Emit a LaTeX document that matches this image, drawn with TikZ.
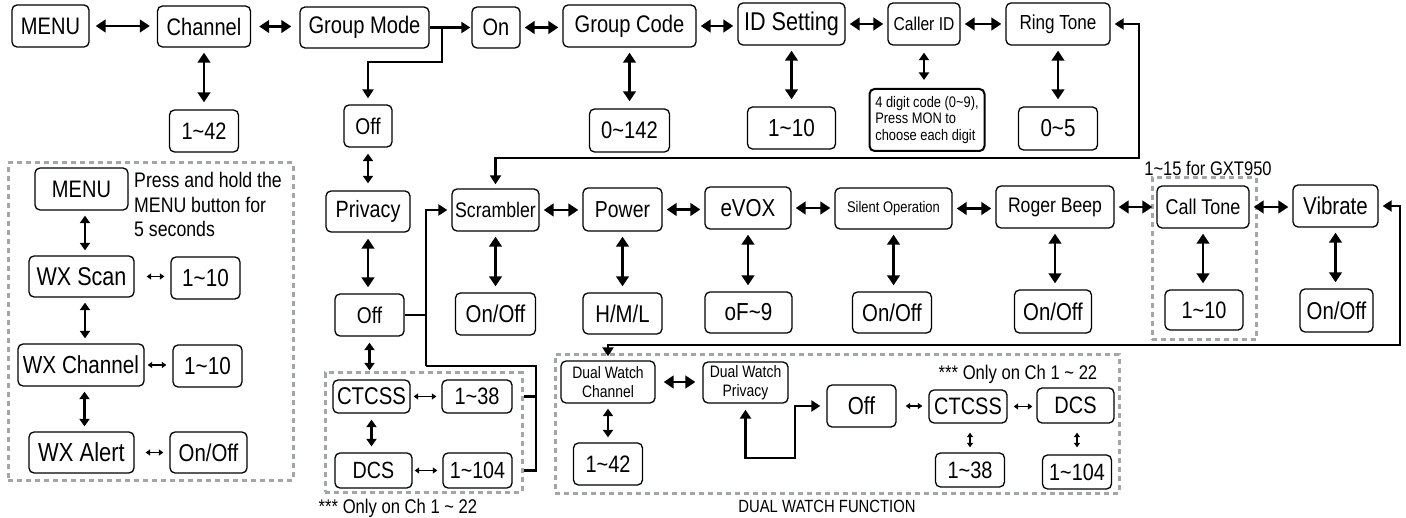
\documentclass[tikz,border=0pt]{standalone}
\usepackage{fontspec}
\setmainfont{Liberation Sans}[FakeStretch=0.84]
\usetikzlibrary{arrows.meta}
\definecolor{dgray}{HTML}{A2A5AA}
\newcommand\tild{\textasciitilde}
\def\fscale{1.07}
\newcommand\fsz[2]{\fontsize{\fpeval{#1*\fscale}}{#2}\selectfont}
\newcommand\bx[7]{\node[bx,minimum width=#4pt,minimum height=#5pt,font=\fsz{#6}{#6}] (#1) at (#2,#3) {#7};}
\begin{document}
\begin{tikzpicture}[x=1pt,y=-1pt,
  bx/.style={draw, rounded corners=5pt, line width=1.3pt, inner sep=0pt, align=center, fill=white},
  dbl/.style={line width=2.8pt, {Triangle[length=10pt,width=12.5pt]}-{Triangle[length=10pt,width=12.5pt]}, shorten <=4pt, shorten >=4pt},
  dbm/.style={line width=2.4pt, {Triangle[length=7.5pt,width=10pt]}-{Triangle[length=7.5pt,width=10pt]}, shorten <=5pt, shorten >=5pt},
  dbs/.style={line width=1.5pt, {Triangle[length=4.5pt,width=6pt]}-{Triangle[length=4.5pt,width=6pt]}, shorten <=4pt, shorten >=4pt},
  conn/.style={line width=2.2pt},
  tipc/.style={-{Triangle[length=9pt,width=11pt]}},
  both/.style={{Triangle[length=9pt,width=11pt]}-{Triangle[length=9pt,width=11pt]}},
  dashbox/.style={draw=dgray, line width=3pt, dash pattern=on 5pt off 4pt, inner sep=0pt},
  lbl/.style={inner sep=0pt}]
\useasboundingbox[fill=white] (0,0) rectangle (1406,518);

% dashed groups
\node[dashbox, minimum width=285pt, minimum height=317pt] (wxbox) at (150.5,321.5) {};
\node[dashbox, minimum width=197pt, minimum height=119pt] (pbox) at (423.5,432.5) {};
\node[dashbox, minimum width=564pt, minimum height=138pt] (dwbox) at (837,424) {};
\node[dashbox, minimum width=104pt, minimum height=162pt] (ctbox) at (1204,259) {};

% row 1
\bx{menu}{50.5}{26}{77}{42}{22.3}{MENU}
\bx{chan}{204}{26.5}{93}{41}{22.3}{Channel}
\bx{gmode}{364.5}{27.5}{129}{41}{22.4}{Group Mode}
\bx{on}{496}{27.5}{48}{41}{22.2}{On}
\bx{gcode}{629.5}{26}{133}{42}{22.4}{Group Code}
\bx{idset}{791.5}{24}{107}{42}{24}{ID Setting}
\bx{callid}{924}{24}{72}{42}{17.4}{Caller ID}
\bx{ring}{1058}{24}{104}{42}{19}{Ring Tone}
\bx{c42}{204}{131}{69}{42}{22.2}{1\tild42}
\bx{c142}{629.5}{130.5}{80}{43}{22.4}{0\tild142}
\bx{c10}{791.5}{128}{88}{42}{23}{1\tild10}
\node[bx, line width=2pt, minimum width=115pt, minimum height=62pt, align=left, font=\fsz{14.3}{16.7}] (note) at (927,120) {4 digit code (0\tild9),\\Press MON to\\choose each digit};
\bx{c5}{1058}{128.5}{79}{43}{22.9}{0\tild5}
\bx{off1}{368}{126}{48}{42}{21.3}{Off}

% row 2
\bx{priv}{368}{211.5}{84}{41}{22}{Privacy}
\bx{scr}{495.5}{210}{87}{42}{19.7}{Scrambler}
\bx{pow}{622.5}{209.5}{79}{43}{21.6}{Power}
\bx{evox}{748}{208}{86}{42}{22.9}{eVOX}
\bx{silent}{893.5}{208.5}{117}{41}{14.4}{Silent Operation}
\bx{roger}{1055}{207}{118}{42}{19.6}{Roger Beep}
\bx{call}{1203}{207}{92}{42}{20}{Call Tone}
\bx{vib}{1335.5}{206}{85}{42}{22.8}{Vibrate}
\bx{off2}{369.5}{315}{69}{42}{21.3}{Off}
\bx{scrv}{495.5}{314}{80}{42}{22.7}{On/Off}
\bx{powv}{622.5}{313.5}{79}{41}{22.6}{H/M/L}
\bx{evoxv}{748.5}{312.5}{87}{41}{23}{oF\tild9}
\bx{silv}{892}{312.5}{79}{41}{22.7}{On/Off}
\bx{rogv}{1053}{311.5}{77}{43}{22.7}{On/Off}
\bx{callv}{1204}{310}{78}{40}{22.2}{1\tild10}
\bx{vibv}{1336.5}{310.5}{73}{43}{22.7}{On/Off}
\node[lbl, font=\fsz{18.4}{20}] (gxt) at (1208,168) {1\tild15 for GXT950};

% WX group
\bx{wmenu}{81.5}{189}{93}{42}{22.3}{MENU}
\bx{wscan}{81.5}{276.5}{105}{41}{24}{WX Scan}
\bx{w10a}{205.5}{278}{69}{42}{23}{1\tild10}
\bx{wchan}{81}{365}{126}{42}{23}{WX Channel}
\bx{w10b}{207.5}{366}{69}{42}{23}{1\tild10}
\bx{walert}{81.5}{452.5}{105}{41}{24.4}{WX Alert}
\bx{wonoff}{208.5}{452.5}{77}{41}{22.7}{On/Off}
\node[lbl, anchor=west, align=left, font=\fsz{19.7}{24.5}] (wtxt) at (134,204.5) {Press and hold the\\MENU button for\\5 seconds};

% privacy group
\bx{ctcss}{371.5}{396.5}{77}{33}{22.6}{CTCSS}
\bx{c38}{477}{396.5}{70}{33}{22.2}{1\tild38}
\bx{dcs}{373.5}{470.5}{77}{35}{21.9}{DCS}
\bx{c104}{477.5}{470.5}{69}{35}{21.9}{1\tild104}
\node[lbl, font=\fsz{18.5}{20}] (pnote) at (398,508) {*** Only on Ch 1 \tild{} 22};

% dual watch group
\node[bx, minimum width=94pt, minimum height=42pt, font=\fsz{15.5}{18.5}] (dwc) at (608,382) {Dual Watch\\Channel};
\node[bx, minimum width=85pt, minimum height=41pt, font=\fsz{15.5}{18.5}] (dwp) at (745.5,382.5) {Dual Watch\\Privacy};
\bx{dw42}{608}{464}{69}{42}{22.2}{1\tild42}
\bx{dwoff}{861.5}{406}{69}{42}{23}{Off}
\bx{dwct}{968}{406.5}{78}{33}{22.2}{CTCSS}
\bx{dwdcs}{1075.5}{405.5}{77}{35}{22.2}{DCS}
\bx{dw38}{970}{470}{69}{34}{22.2}{1\tild38}
\bx{dw104}{1077}{472}{69}{34}{22}{1\tild104}
\node[lbl, font=\fsz{18.5}{20}] (dwnote) at (1018,374) {*** Only on Ch 1 \tild{} 22};
\node[lbl, font=\fsz{16.5}{18}] (dwtitle) at (827,506) {DUAL WATCH FUNCTION};

% ---- connectors row 1
\draw[dbl, shorten <=6pt, shorten >=7pt] (menu.east) -- (menu.east -| chan.west);
\draw[dbl, shorten <=8pt, shorten >=8pt] (chan.east) -- (chan.east -| gmode.west);
\draw[dbl] (on.east) -- (on.east -| gcode.west);
\draw[dbl] (gcode.east) -- (gcode.east -| idset.west);
\draw[dbl] (idset.east) -- (idset.east -| callid.west);
\draw[dbl] (callid.east) -- (callid.east -| ring.west);
\draw[dbl, shorten <=5pt, shorten >=7pt] (chan.south) -- (chan.south |- c42.north);
\draw[dbl, shorten <=5pt, shorten >=7pt] (gcode.south) -- (gcode.south |- c142.north);
\draw[dbl, shorten <=5pt, shorten >=7pt] (idset.south) -- (idset.south |- c10.north);
\draw[dbm, shorten <=7pt, shorten >=8pt] (callid.south) -- (callid.south |- note.north);
\draw[dbl, shorten <=5pt, shorten >=7pt] (ring.south) -- (ring.south |- c5.north);
\coordinate (gmj) at (442,27.5);
\coordinate (gmk) at (442,62);
\draw[conn, tipc, shorten >=1pt] (gmode.east) -- (on.west);
\draw[conn, tipc, shorten >=6pt] (gmj) -- (gmk) -- (gmk -| off1.north) -- (off1.north);
\draw[dbm, shorten <=6pt, shorten >=7pt] (off1.south) -- (off1.south |- priv.north);

% ring tone loop
\coordinate (rl1) at (1139,158);
\draw[conn, both, shorten <=4pt, shorten >=4pt] (ring.east) -- (ring.east -| rl1) -- (rl1) -- (rl1 -| scr.north) -- (scr.north);

% row 2
\draw[dbl] (scr.east) -- (scr.east -| pow.west);
\draw[dbl] (pow.east) -- (pow.east -| evox.west);
\draw[dbl] (evox.east) -- (evox.east -| silent.west);
\draw[dbl] (silent.east) -- (silent.east -| roger.west);
\draw[dbl] (roger.east) -- (roger.east -| call.west);
\draw[dbl] (call.east) -- (call.east -| vib.west);
\draw[dbl, shorten <=6pt, shorten >=6pt] (priv.south) -- (priv.south |- off2.north);
\draw[dbl, shorten <=5pt, shorten >=6pt] (scr.south) -- (scr.south |- scrv.north);
\draw[dbl, shorten <=5pt, shorten >=6pt] (pow.south) -- (pow.south |- powv.north);
\draw[dbl, shorten <=5pt, shorten >=6pt] (evox.south) -- (evox.south |- evoxv.north);
\draw[dbl, shorten <=5pt, shorten >=6pt] (silent.south) -- (silent.south |- silv.north);
\draw[dbl, shorten <=5pt, shorten >=6pt] (roger.south) -- (roger.south |- rogv.north);
\draw[dbl, shorten <=5pt, shorten >=6pt] (call.south) -- (call.south |- callv.north);
\draw[dbl, shorten <=5pt, shorten >=6pt] (vib.south) -- (vib.south |- vibv.north);

% vibrate loop
\coordinate (vl1) at (1400,345);
\draw[conn, both, shorten <=4pt, shorten >=4pt] (vib.east) -- (vib.east -| vl1) -- (vl1) -- (vl1 -| dwc.north) -- (dwc.north);

% off -> scrambler link
\coordinate (p1) at (426,366);
\coordinate (p2) at (536,366);
\draw[conn] (off2.east) -- (off2.east -| p1);
\draw[conn, tipc, shorten >=4pt] (p1) -- (p1 |- scr.west) -- (scr.west);
\draw[conn] (p1) -- (p2) -- (p2 |- c104.east) -- (pbox.east |- c104.east);
\draw[conn] (p2 |- c38.east) -- (pbox.east |- c38.east);

% privacy group arrows
\draw[dbm, shorten <=6pt, shorten >=9pt] (off2.south) -- (off2.south |- ctcss.north);
\draw[dbm, shorten <=6pt, shorten >=6pt] (ctcss.south) -- (ctcss.south |- dcs.north);
\draw[dbs, shorten <=3pt, shorten >=5pt] (ctcss.east) -- (ctcss.east -| c38.west);
\draw[dbs, shorten <=2pt, shorten >=5pt] (dcs.east) -- (dcs.east -| c104.west);

% WX arrows
\draw[dbm] ([xshift=3.5pt]wmenu.south) -- ([xshift=3.5pt]wmenu.south |- wscan.north);
\draw[dbm] ([xshift=3.5pt]wscan.south) -- ([xshift=3.5pt]wscan.south |- wchan.north);
\draw[dbm] ([xshift=3.5pt]wchan.south) -- ([xshift=3.5pt]wchan.south |- walert.north);
\draw[dbs, shorten <=12pt, shorten >=6pt] (wscan.east) -- (wscan.east -| w10a.west);
\draw[dbs, shorten <=3pt, shorten >=6pt] (wchan.east) -- (wchan.east -| w10b.west);
\draw[dbs, shorten <=11pt, shorten >=6pt] (walert.east) -- (walert.east -| wonoff.west);

% dual watch arrows
\draw[dbl, shorten <=8pt, shorten >=7pt] (dwc.east) -- (dwc.east -| dwp.west);
\draw[dbm] (dwc.south) -- (dwc.south |- dw42.north);
\coordinate (q1) at (746,458);
\coordinate (q2) at (795,458);
\draw[conn, both, shorten <=6pt, shorten >=6pt] (dwp.south) -- (dwp.south |- q1) -- (q2) -- (q2 |- dwoff.west) -- (dwoff.west);
\draw[dbs, shorten <=9pt, shorten >=6pt] (dwoff.east) -- (dwoff.east -| dwct.west);
\draw[dbs, shorten <=6pt, shorten >=4pt] (dwct.east) -- (dwct.east -| dwdcs.west);
\draw[dbs, shorten <=9pt, shorten >=5pt] (dwct.south -| dw38.north) -- (dw38.north);
\draw[dbs, shorten <=9pt, shorten >=7pt] (dwdcs.south -| dw104.north) -- (dw104.north);
\end{tikzpicture}
\end{document}
